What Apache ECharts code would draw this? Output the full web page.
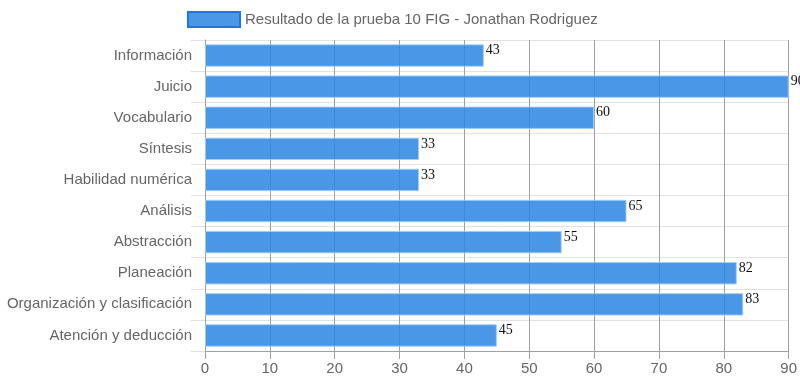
<!DOCTYPE html>
<html>
<head>
<meta charset="utf-8">
<script src="https://cdn.jsdelivr.net/npm/echarts@6/dist/echarts.min.js"></script>
<style>html,body{margin:0;padding:0;background:#fff}#c{width:800px;height:386px}</style>
</head>
<body>
<div id="c"></div>
<script>
var categories = ["Información","Juicio","Vocabulario","Síntesis","Habilidad numérica","Análisis","Abstracción","Planeación","Organización y clasificación","Atención y deducción"];
var values = [43, 90, 60, 33, 33, 65, 55, 82, 83, 45];
var seriesName = "Resultado de la prueba 10 FIG - Jonathan Rodriguez";
var xTicks = {min: 0, max: 90, interval: 10};

var sans = 'Liberation Sans';
var chart = echarts.init(document.getElementById('c'), null, {renderer: 'canvas'});
chart.setOption({
  animation: false,
  legend: {
    top: 6, left: 182,
    itemWidth: 52, itemHeight: 15, itemGap: 7,
    textStyle: {fontFamily: sans, fontSize: 15, color: '#666'},
    data: [{name: seriesName, icon: 'rect', itemStyle: {color: '#4a97e8', borderColor: '#1a78e0', borderWidth: 2}}]
  },
  grid: {left: 205, right: 11, top: 40, bottom: 35, containLabel: false},
  xAxis: {
    type: 'value', min: xTicks.min, max: xTicks.max, interval: xTicks.interval,
    axisLine: {show: true, lineStyle: {color: '#a0a0a0'}},
    axisTick: {show: true, length: 8, lineStyle: {color: '#a0a0a0'}},
    splitLine: {show: true, lineStyle: {color: '#a0a0a0', width: 1}},
    axisLabel: {fontFamily: sans, fontSize: 15, color: '#666', margin: 10}
  },
  yAxis: {
    type: 'category', data: categories, inverse: true,
    axisLine: {show: true, lineStyle: {color: '#a0a0a0'}},
    axisTick: {show: true, length: 14, lineStyle: {color: '#e2e2e2'}},
    splitLine: {show: true, lineStyle: {color: '#e2e2e2'}},
    axisLabel: {fontFamily: sans, fontSize: 15, color: '#666', margin: 13}
  },
  series: [{
    name: seriesName, type: 'bar', data: values,
    barCategoryGap: '28%',
    itemStyle: {color: 'rgba(42,133,228,0.85)', borderColor: 'rgba(160,205,250,0.9)', borderWidth: 1},
    label: {show: true, position: 'right', distance: 2, offset: [0, -5],
      fontFamily: 'Liberation Serif', fontSize: 14, color: '#111'}
  }]
});
</script>
</body>
</html>
